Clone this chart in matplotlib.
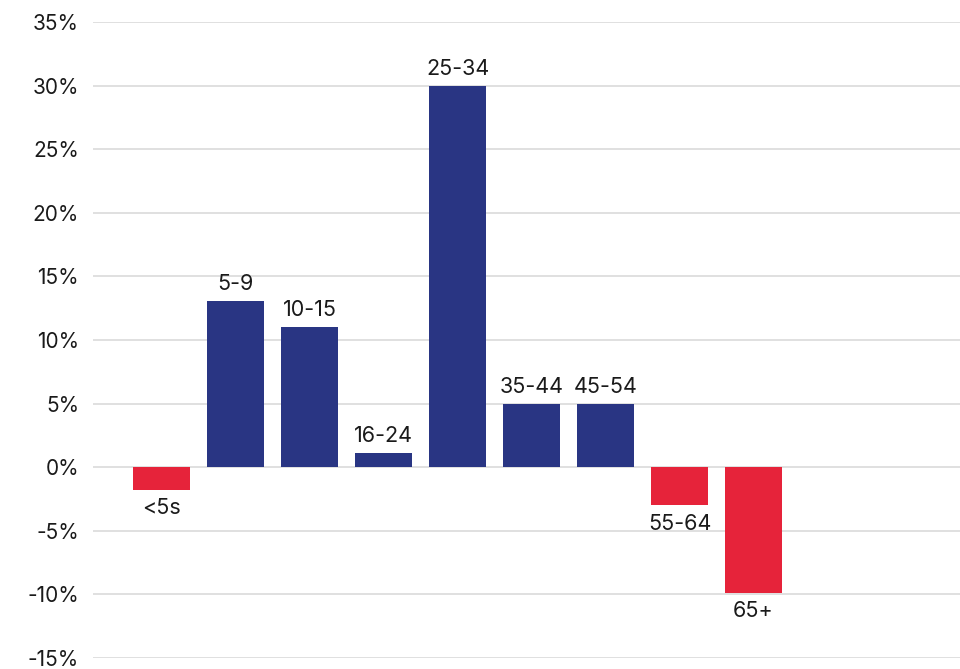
import matplotlib.pyplot as plt
from matplotlib.ticker import FuncFormatter

# datos
grupos = ["<5s", "5-9", "10-15", "16-24", "25-34", "35-44", "45-54", "55-64", "65+"]
cambio = [-1.8, 13.1, 11.0, 1.1, 30.0, 5.0, 5.0, -3.0, -9.9]

AZUL = "#293583"
ROJO = "#E6233A"

plt.rcParams['font.family'] = ['Inter', 'DejaVu Sans']

fig = plt.figure(figsize=(9.6, 6.69), dpi=100)
ax = fig.add_axes([93 / 960, 1 - 658 / 669, 1 - 93 / 960, (658 - 22) / 669])

colores = [AZUL if v >= 0 else ROJO for v in cambio]
x = range(len(grupos))
barras = ax.bar(x, cambio, width=0.77, color=colores, zorder=2)

# etiquetas encima / debajo de cada barra
for xi, v, g in zip(x, cambio, grupos):
    if v >= 0:
        ax.annotate(g, (xi, v), xytext=(0, 5), textcoords="offset points",
                    ha="center", va="bottom", fontsize=15.5, color="#1a1a1a")
    else:
        ax.annotate(g, (xi, v), xytext=(0, -6), textcoords="offset points",
                    ha="center", va="top", fontsize=15.5, color="#1a1a1a")

ax.set_ylim(-15, 35)
ax.set_yticks(range(-15, 36, 5))
ax.yaxis.set_major_formatter(FuncFormatter(lambda v, p: f"{v:.0f}%"))
ax.set_xlim(-0.926, 10.79)
ax.set_xticks([])

ax.grid(axis="y", color="#dddddd", linewidth=1.3, zorder=0)
ax.set_axisbelow(True)
for s in ax.spines.values():
    s.set_visible(False)
ax.tick_params(axis="y", length=0, pad=10, labelsize=15, labelcolor="#1a1a1a")

fig.savefig("out.png", dpi=100)
